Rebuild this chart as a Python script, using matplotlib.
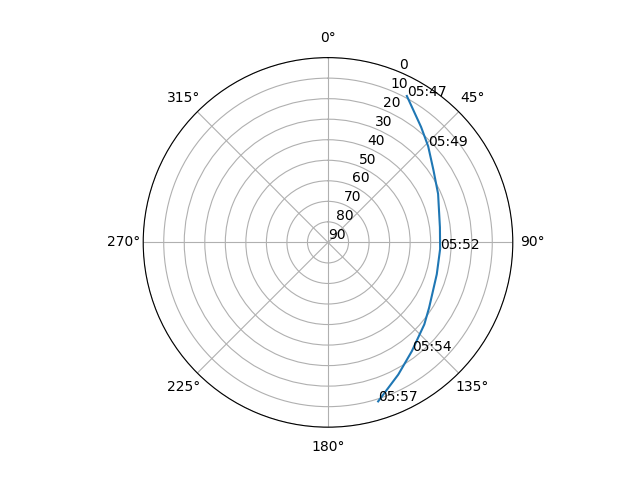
import numpy as np
import matplotlib
matplotlib.use("Agg")
import matplotlib.pyplot as plt

# satellite pass: azimuth (deg) and elevation (deg)
azimuth = [28.3, 38.9, 46.2, 55.7, 66.2, 82.3, 93.4, 106.3, 122.8, 130.4, 142.4, 152.0, 162.5]
elevation = [9.0, 17.8, 22.4, 27.8, 31.4, 35.0, 35.3, 34.8, 31.4, 28.4, 23.1, 17.1, 8.8]
label_idx = [0, 2, 6, 10, 12]
label_text = ["05:47", "05:49", "05:52", "05:54", "05:57"]
r_ticks = list(range(0, 91, 10))

fig = plt.figure(figsize=(6.4, 4.8), dpi=100)
ax = fig.add_subplot(111, projection="polar")
ax.set_theta_zero_location("N")
ax.set_theta_direction(-1)

theta = np.radians(azimuth)
ax.plot(theta, elevation)
for i, t in zip(label_idx, label_text):
    ax.annotate(t, (theta[i], elevation[i]))

ax.set_yticks(r_ticks)
ax.set_rlim(90, 0)

fig.savefig("out.png")
